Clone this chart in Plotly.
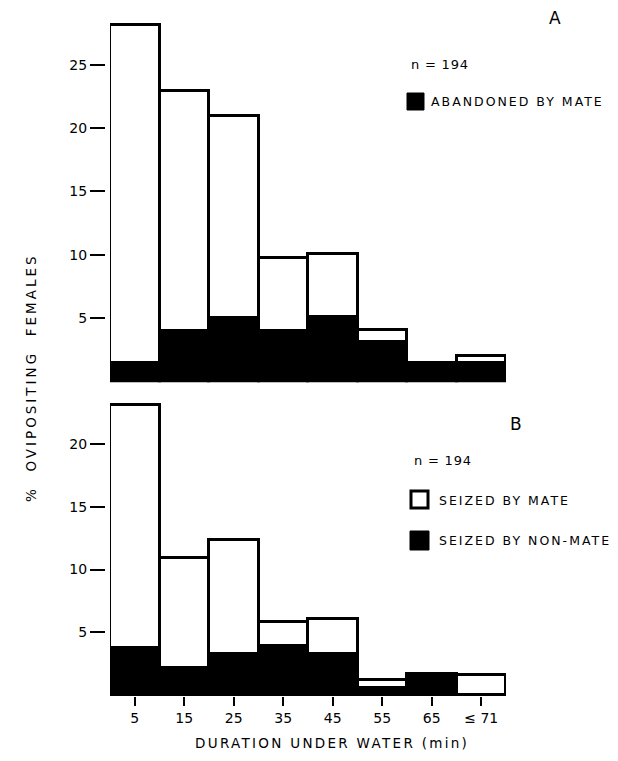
import plotly.graph_objects as go

# Page body has an 8px margin, so the figure is drawn 8px smaller and offset
OFF = 8
W, H = 618 - OFF, 761 - OFF

categories = ["5", "15", "25", "35", "45", "55", "65", "≤ 71"]

# Panel A
a_total = [28.2, 23.0, 21.0, 9.8, 10.1, 4.1, 1.5, 2.0]
a_abandoned = [1.5, 4.0, 5.0, 4.0, 5.1, 3.1, 1.5, 1.5]

# Panel B
b_total = [23.1, 10.9, 12.4, 5.8, 6.1, 1.2, 1.7, 1.6]
b_nonmate = [3.8, 2.2, 3.3, 3.9, 3.3, 0.6, 1.7, 0.0]

a_ticks = [5, 10, 15, 20, 25]
b_ticks = [5, 10, 15, 20]

FONT = "DejaVu Sans, Liberation Sans, Arial, sans-serif"

def px(x):
    return (x - OFF) / W

def py(y):
    return 1 - (y - OFF) / H

fig = go.Figure()

line = dict(color="black", width=3)

fig.add_trace(go.Bar(x=categories, y=a_abandoned, marker=dict(color="black", line=line),
                     xaxis="x", yaxis="y", showlegend=False))
fig.add_trace(go.Bar(x=categories, y=[t - b for t, b in zip(a_total, a_abandoned)],
                     marker=dict(color="white", line=line),
                     xaxis="x", yaxis="y", showlegend=False))
fig.add_trace(go.Bar(x=categories, y=b_nonmate, marker=dict(color="black", line=line),
                     xaxis="x2", yaxis="y2", showlegend=False))
fig.add_trace(go.Bar(x=categories, y=[t - b for t, b in zip(b_total, b_nonmate)],
                     marker=dict(color="white", line=line),
                     xaxis="x2", yaxis="y2", showlegend=False))

xdom = [px(110), px(506)]

common_x = dict(domain=xdom, range=[-0.5, 7.5], type="category", showgrid=False,
                zeroline=False, showline=False)

yaxis_common = dict(showgrid=False, zeroline=False, showline=False,
                    ticks="outside", ticklen=15, tickwidth=1.5, tickcolor="black",
                    tickfont=dict(family=FONT, size=14, color="black"),
                    anchor="free", position=px(105))

fig.update_layout(
    width=W, height=H,
    margin=dict(l=0, r=0, t=0, b=0),
    paper_bgcolor="white", plot_bgcolor="white",
    barmode="stack", bargap=0,
    xaxis=dict(**common_x, anchor="y", showticklabels=False, ticks=""),
    yaxis=dict(**yaxis_common, domain=[py(382.3), py(19.5)], range=[-0.1, 28.6],
               tickvals=a_ticks, ticktext=[str(v) for v in a_ticks]),
    xaxis2=dict(**common_x, anchor="y2", ticks="outside", ticklen=9, tickwidth=1.5,
                tickcolor="black", tickfont=dict(family=FONT, size=14, color="black")),
    yaxis2=dict(**yaxis_common, domain=[py(696.3), py(398.8)], range=[-0.1, 23.6],
                tickvals=b_ticks, ticktext=[str(v) for v in b_ticks]),
    font=dict(family=FONT, color="black"),
)

def ann(text, x, y, size=12, angle=0, xanchor="left", spacing=0):
    if spacing:
        text = '<span style="letter-spacing:%gpx">%s</span>' % (spacing, text)
    fig.add_annotation(text=text, x=px(x), y=py(y), xref="paper", yref="paper",
                       showarrow=False, xanchor=xanchor, yanchor="middle",
                       textangle=angle, font=dict(family=FONT, size=size, color="black"))

ann("A", 555, 18, size=17, xanchor="center")
ann("n = 194", 409, 64, size=13, spacing=0.8)
ann("ABANDONED BY MATE", 429, 101, size=12.5, spacing=2)

ann("B", 516, 424, size=17, xanchor="center")
ann("n = 194", 412, 460, size=13, spacing=0.8)
ann("SEIZED BY MATE", 437, 500, size=12.5, spacing=2)
ann("SEIZED BY NON-MATE", 437, 540, size=12.5, spacing=2)

ann("%  OVIPOSITING  FEMALES", 31, 378, size=13.5, angle=-90, xanchor="center", spacing=3)
ann("DURATION UNDER WATER (min)", 332, 743, size=13.5, xanchor="center", spacing=2.3)

fig.add_shape(type="rect", xref="paper", yref="paper",
              x0=px(407), x1=px(424), y0=py(110), y1=py(93),
              fillcolor="black", line=dict(color="black", width=1))
fig.add_shape(type="rect", xref="paper", yref="paper",
              x0=px(411), x1=px(428), y0=py(508), y1=py(491),
              fillcolor="white", line=dict(color="black", width=3))
fig.add_shape(type="rect", xref="paper", yref="paper",
              x0=px(410), x1=px(429), y0=py(550), y1=py(531),
              fillcolor="black", line=dict(color="black", width=1))

fig.write_html("out.html")
